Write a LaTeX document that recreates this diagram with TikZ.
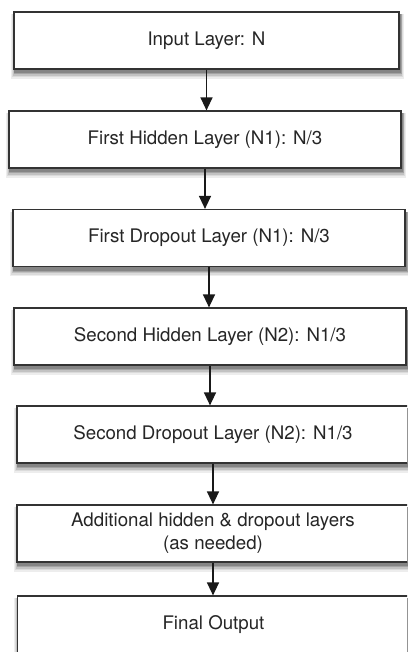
\documentclass[tikz,border=0pt]{standalone}
\usepackage{fontspec}
\setmainfont{TeX Gyre Heros}
\usepackage{tikz}
\usetikzlibrary{positioning,arrows.meta,backgrounds}
\tikzset{
  flowarrow/.style={-{Triangle[length=13pt, width=12pt]}, line width=1.3pt, black!90},
  layerbox/.style={draw=black!80, line width=1.2pt, fill=white, minimum width=392pt, minimum height=57pt, align=center, text=black!85}
}

\begin{document}
\begin{tikzpicture}[x=1pt, y=-1pt, every node/.style={font=\fontsize{18.7}{23}\selectfont}]
  \useasboundingbox (0,0) rectangle (407,652);
  \clip (0,0) rectangle (407,652);
  \node[layerbox, minimum width=385pt] (inp) at (206.5,40.5) {Input Layer: N};
  \node[layerbox] (hid1) at (205,139.5) {First Hidden Layer (N1): N/3};
  \node[layerbox] (drop1) at (209,238) {First Dropout Layer (N1): N/3};
  \node[layerbox] (hid2) at (210,336.5) {Second Hidden Layer (N2): N1/3};
  \node[layerbox] (drop2) at (213,434.5) {Second Dropout Layer (N2): N1/3};
  \node[layerbox] (more) at (213,533.5) {Additional hidden \& dropout layers\\(as needed)};
  \node[layerbox] (outp) at (213.5,624.5) {Final Output};
  \draw[flowarrow] (inp.south) -- (inp.south |- hid1.north);
  \draw[flowarrow] (hid1.south) -- (hid1.south |- drop1.north);
  \draw[flowarrow] (drop1.south) -- (drop1.south |- hid2.north);
  \draw[flowarrow] (hid2.south) -- (hid2.south |- drop2.north);
  \draw[flowarrow] (drop2.south) -- (drop2.south |- more.north);
  \draw[flowarrow] (more.south) -- (more.south |- outp.north);
  % soft shadows under the boxes
  \begin{scope}[on background layer]
    \foreach \n in {inp,hid1,drop1,hid2,drop2,more,outp}
      \foreach \e/\g in {6/7,4.5/14,3/24,1.5/36,0.5/48}
        \fill[black!\g] ([shift={(1-0.6*\e,3+\e)}]\n.south west)
          rectangle ([shift={(1+0.6*\e,3)}]\n.north east);
  \end{scope}
\end{tikzpicture}
\end{document}
